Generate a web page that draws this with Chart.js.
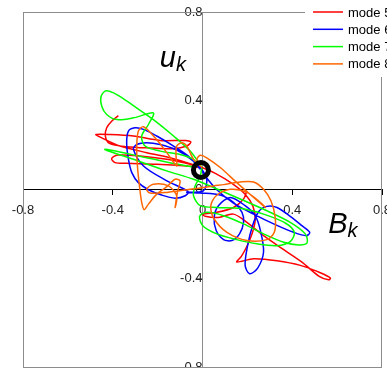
<!DOCTYPE html>
<html>
<head>
<meta charset="utf-8">
<script src="https://cdn.jsdelivr.net/npm/chart.js@4"></script>
<style>
  html, body { margin: 0; padding: 0; background: #fff; }
  #wrap { width: 387px; height: 368px; }
</style>
</head>
<body>
<div id="wrap"><canvas id="phase" width="387" height="368"></canvas></div>
<script>
// series labels and colours
const seriesNames = ["mode 5", "mode 6", "mode 7", "mode 8"]
const seriesColors = ["#ff0000", "#0000ff", "#00ff00", "#ff6600"]
const tickValues = [-0.8, -0.4, 0, 0.4, 0.8]

// mode 5 (B_k, u_k)
const mode5X = [-0.375,-0.405,-0.427,-0.433,-0.415,-0.338,-0.234,-0.129,-0.070,-0.052,-0.077,-0.189,-0.308,-0.412,-0.475,-0.449,-0.368,-0.248,-0.129,-0.040,-0.010,-0.070,-0.204,-0.338,-0.390,-0.405,-0.379,-0.278,-0.159,-0.055,-0.003,0.057,0.131,0.190,0.225,0.235,0.222,0.198,0.174,0.153,0.228,0.332,0.436,0.525,0.570,0.562,0.518,0.443,0.362,0.272,0.198,0.138,0.071,0.012,0.001,0.064,0.138,0.183,0.198]
const mode5Y = [0.333,0.308,0.278,0.241,0.208,0.193,0.187,0.184,0.196,0.214,0.221,0.221,0.241,0.248,0.248,0.233,0.196,0.166,0.139,0.111,0.099,0.106,0.114,0.118,0.121,0.139,0.155,0.151,0.136,0.114,0.099,0.073,0.028,-0.021,-0.076,-0.136,-0.196,-0.256,-0.300,-0.327,-0.312,-0.321,-0.342,-0.375,-0.399,-0.407,-0.390,-0.327,-0.271,-0.208,-0.148,-0.111,-0.126,-0.121,-0.111,-0.103,-0.081,-0.043,-0.006]

// mode 6
const mode6X = [-0.010,-0.063,-0.129,-0.204,-0.263,-0.301,-0.330,-0.338,-0.330,-0.315,-0.286,-0.241,-0.182,-0.122,-0.077,-0.063,-0.159,-0.263,-0.308,-0.293,-0.249,-0.189,-0.115,-0.055,-0.010,0.019,0.004,-0.070,-0.010,0.079,0.138,0.176,0.183,0.165,0.131,0.094,0.061,0.052,0.071,0.124,0.190,0.235,0.260,0.272,0.246,0.210,0.190,0.201,0.223,0.250,0.287,0.332,0.391,0.443,0.478,0.463,0.406,0.317,0.228,0.138,0.064,0.012,-0.006]
const mode6Y = [0.091,0.151,0.196,0.241,0.271,0.278,0.263,0.211,0.136,0.076,0.031,-0.001,-0.025,-0.039,-0.028,-0.010,0.039,0.106,0.181,0.203,0.211,0.203,0.178,0.139,0.099,0.046,-0.006,-0.013,-0.016,-0.025,-0.058,-0.103,-0.148,-0.200,-0.230,-0.226,-0.185,-0.126,-0.073,-0.036,-0.073,-0.118,-0.193,-0.283,-0.354,-0.380,-0.342,-0.253,-0.163,-0.100,-0.076,-0.081,-0.121,-0.163,-0.193,-0.208,-0.193,-0.155,-0.111,-0.061,-0.001,0.061,0.091]

// mode 7
const mode7X = [-0.006,-0.055,-0.129,-0.219,-0.308,-0.382,-0.430,-0.452,-0.449,-0.427,-0.382,-0.308,-0.219,-0.241,-0.271,-0.256,-0.189,-0.100,-0.040,-0.025,-0.070,-0.249,-0.435,-0.308,-0.159,-0.040,0.049,0.168,0.287,0.391,0.458,0.466,0.429,0.362,0.272,0.183,0.094,0.019,-0.013,0.001,0.064,0.153,0.243,0.332,0.391,0.409,0.369,0.272,0.168,0.064,-0.010,-0.040,-0.033,-0.010,-0.003]
const mode7Y = [0.106,0.173,0.241,0.315,0.378,0.428,0.445,0.420,0.375,0.338,0.315,0.323,0.345,0.293,0.241,0.196,0.173,0.158,0.136,0.106,0.106,0.143,0.181,0.136,0.084,0.046,0.009,-0.043,-0.096,-0.148,-0.200,-0.241,-0.250,-0.238,-0.200,-0.155,-0.118,-0.103,-0.121,-0.163,-0.200,-0.226,-0.245,-0.253,-0.235,-0.193,-0.151,-0.111,-0.085,-0.081,-0.073,-0.028,0.016,0.061,0.099]

// mode 8
const mode8X = [-0.003,-0.040,-0.070,-0.092,-0.115,-0.118,-0.115,-0.159,-0.211,-0.263,-0.286,-0.293,-0.290,-0.281,-0.271,-0.260,-0.241,-0.204,-0.159,-0.122,-0.100,-0.112,-0.122,-0.115,-0.152,-0.219,-0.249,-0.234,-0.159,-0.055,0.004,0.049,0.094,0.168,0.228,0.272,0.305,0.324,0.320,0.287,0.198,0.109,0.052,0.037,0.061,0.124,0.198,0.257,0.280,0.228,0.153,0.079,0.019,-0.010,-0.025,-0.010]
const mode8Y = [0.099,0.136,0.196,0.211,0.196,0.151,0.106,0.166,0.233,0.283,0.263,0.196,0.106,0.016,-0.058,-0.091,-0.066,-0.021,0.013,0.046,0.039,-0.013,-0.081,-0.028,0.016,0.024,0.001,-0.016,-0.013,0.001,0.009,0.016,0.022,0.034,0.034,0.001,-0.051,-0.126,-0.193,-0.226,-0.230,-0.193,-0.133,-0.073,-0.028,0.001,-0.013,-0.058,-0.081,-0.036,0.031,0.099,0.143,0.154,0.136,0.106]

// marked point (black ring)
const markerX = [-0.007]
const markerY = [0.088]

const seriesX = [mode5X, mode6X, mode7X, mode8X]
const seriesY = [mode5Y, mode6Y, mode7Y, mode8Y]

function toPoints(xs, ys) {
	return xs.map((x, i) => ({x: x, y: ys[i]}))
}

const datasets = seriesNames.map((name, i) => ({
	label: name,
	data: toPoints(seriesX[i], seriesY[i]),
	showLine: true,
	borderColor: seriesColors[i],
	backgroundColor: seriesColors[i],
	borderWidth: 1.5,
	pointRadius: 0,
	tension: 0.3,
	order: 10 - i,
}))

datasets.push({
	label: "marker",
	data: toPoints(markerX, markerY),
	showLine: false,
	pointRadius: 7.5,
	pointBorderWidth: 5,
	pointBorderColor: "#000",
	pointBackgroundColor: "rgba(0,0,0,0)",
	order: 0,
})

const axisFont = {family: "'Liberation Sans', Arial, sans-serif", size: 13}

// the edge labels may hang out of the plot, like in the original
function noOverflowPadding(scale) {
	scale.paddingLeft = 0
	scale.paddingRight = 0
	scale.paddingTop = 0
	scale.paddingBottom = 0
}

// gray frame round the plot area
const framePlugin = {
	id: "frame",
	beforeDatasetsDraw(chart) {
		const a = chart.chartArea
		const ctx = chart.ctx
		ctx.save()
		ctx.strokeStyle = "#8c8c8c"
		ctx.lineWidth = 1
		ctx.strokeRect(a.left + 0.5, a.top + 0.5, a.right - a.left - 1, a.bottom - a.top)
		ctx.restore()
	}
}

// axis titles and the cut-off legend box in the top right corner
const labelsPlugin = {
	id: "labels",
	afterDraw(chart) {
		const ctx = chart.ctx
		const xs = chart.scales.x
		const ys = chart.scales.y
		ctx.save()
		ctx.fillStyle = "#000"
		ctx.textBaseline = "alphabetic"
		ctx.textAlign = "left"

		// u_k
		let x0 = xs.getPixelForValue(-0.19)
		let y0 = ys.getPixelForValue(0.55)
		ctx.font = "italic 29px 'Liberation Sans', Arial, sans-serif"
		ctx.fillText("u", x0, y0)
		let w = ctx.measureText("u").width
		ctx.font = "italic 20px 'Liberation Sans', Arial, sans-serif"
		ctx.fillText("k", x0 + w, y0 + 4)

		// B_k
		x0 = xs.getPixelForValue(0.56)
		y0 = ys.getPixelForValue(-0.195)
		ctx.font = "italic 29px 'Liberation Sans', Arial, sans-serif"
		ctx.fillText("B", x0, y0)
		w = ctx.measureText("B").width
		ctx.font = "italic 20px 'Liberation Sans', Arial, sans-serif"
		ctx.fillText("k", x0 + w, y0 + 4)

		// legend
		const lx = 305
		ctx.fillStyle = "#fff"
		ctx.fillRect(lx, 4, chart.width - lx, 73)
		ctx.font = "13px 'Liberation Sans', Arial, sans-serif"
		ctx.textBaseline = "middle"
		seriesNames.forEach((name, i) => {
			const yy = 12 + i * 17.3
			ctx.strokeStyle = seriesColors[i]
			ctx.lineWidth = 1.5
			ctx.beginPath()
			ctx.moveTo(lx + 8, yy)
			ctx.lineTo(lx + 38, yy)
			ctx.stroke()
			ctx.fillStyle = "#000"
			ctx.fillText(name, lx + 43, yy + 1)
		})
		ctx.restore()
	}
}

new Chart(document.getElementById("phase").getContext("2d"), {
	type: "scatter",
	data: {datasets: datasets},
	options: {
		responsive: false,
		animation: false,
		layout: {autoPadding: false, padding: {left: 23, right: 5, top: 12, bottom: 1}},
		plugins: {
			legend: {display: false},
			tooltip: {enabled: false},
		},
		scales: {
			x: {
				type: "linear",
				position: {y: 0},
				min: -0.8,
				max: 0.8,
				afterBuildTicks: (scale) => { scale.ticks = tickValues.map(v => ({value: v})) },
				afterFit: noOverflowPadding,
				ticks: {
					font: axisFont,
					color: "#222",
					padding: 8,
					maxRotation: 0,
					autoSkip: false,
					callback: (v) => String(Math.round(v * 10) / 10),
				},
				grid: {drawOnChartArea: false, drawTicks: true, tickLength: 5, color: "#000"},
				border: {color: "#000", width: 1},
			},
			y: {
				type: "linear",
				position: {x: 0},
				min: -0.8,
				max: 0.8,
				afterBuildTicks: (scale) => { scale.ticks = tickValues.map(v => ({value: v})) },
				afterFit: noOverflowPadding,
				ticks: {
					font: axisFont,
					color: "#222",
					padding: 9,
					autoSkip: false,
					callback: (v) => String(Math.round(v * 10) / 10),
				},
				grid: {drawOnChartArea: false, drawTicks: true, tickLength: 5, color: "#8c8c8c"},
				border: {color: "#8c8c8c", width: 1},
			},
		},
	},
	plugins: [framePlugin, labelsPlugin],
})
</script>
</body>
</html>
